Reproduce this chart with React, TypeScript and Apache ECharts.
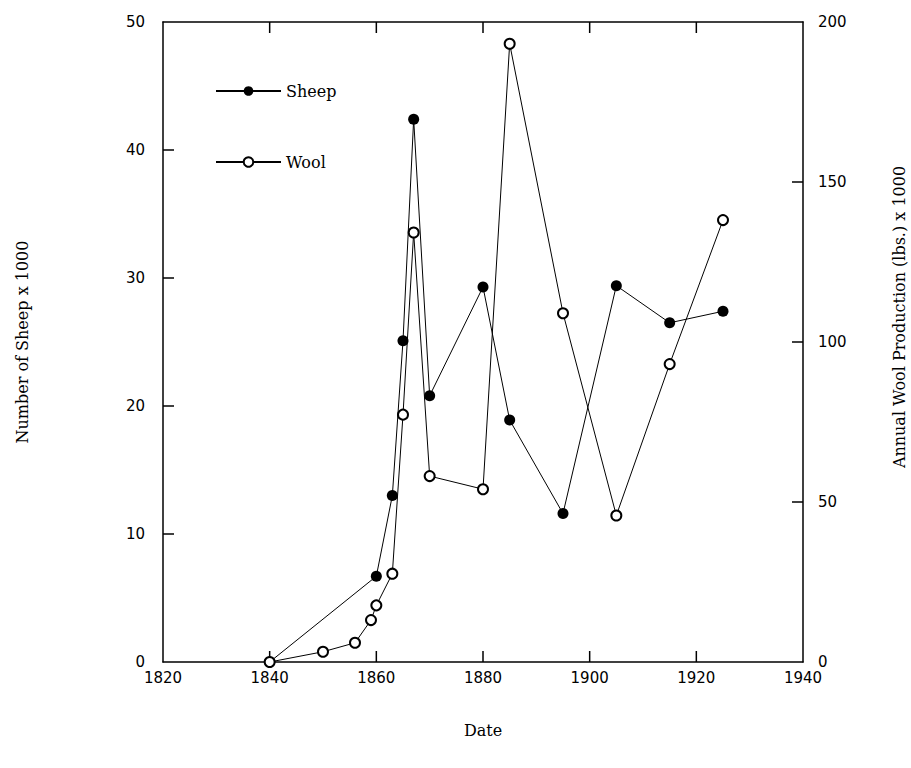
import React, { useEffect, useRef } from "react";
import * as echarts from "echarts";

const sheepYears = [1840, 1860, 1863, 1865, 1867, 1870, 1880, 1885, 1895, 1905, 1915, 1925];
const sheepValues = [0, 6.7, 13.0, 25.1, 42.4, 20.8, 29.3, 18.9, 11.6, 29.4, 26.5, 27.4];

const woolYears = [1840, 1850, 1856, 1859, 1860, 1863, 1865, 1867, 1870, 1880, 1885, 1895, 1905, 1915, 1925];
const woolValues = [0, 3.2, 6.0, 13.1, 17.7, 27.6, 77.3, 134.2, 58.1, 54.0, 193.2, 109, 45.8, 93.1, 138.1];

const xMin = 1820;
const xMax = 1940;
const leftMax = 50;
const rightMax = 200;
const xTicks = [1840, 1860, 1880, 1900, 1920];
const leftTicks = [10, 20, 30, 40];
const rightTicks = [50, 100, 150];

const xTitle = "Date";
const leftTitle = "Number of Sheep x 1000";
const rightTitle = "Annual Wool Production (lbs.) x 1000";

const SANS = "DejaVu Sans";
const SERIF = "DejaVu Serif";
const TICK_LEN = 11;
const tickStyle = { stroke: "#000", lineWidth: 1.5 };

const mkLine = () => ({ show: true, onZero: false, lineStyle: { color: "#000", width: 1.5 } });

export default function App() {
  const ref = useRef<HTMLDivElement>(null);
  useEffect(() => {
    if (!ref.current) return;
    const chart = echarts.init(ref.current, undefined, { renderer: "svg" });
    chart.setOption({
      animation: false,
      backgroundColor: "#fff",
      grid: {
        left: 163,
        top: 22,
        width: 640,
        height: 640,
        containLabel: false,
        outerBoundsMode: "none",
      },
      legend: {
        left: 215,
        top: 82,
        padding: 0,
        orient: "vertical",
        itemWidth: 65,
        itemHeight: 12,
        itemGap: 53,
        data: ["Sheep", "Wool"],
        textStyle: { fontFamily: SERIF, fontSize: 16, color: "#000", lineHeight: 18 },
      },
      xAxis: [
        {
          type: "value",
          position: "bottom",
          min: xMin,
          max: xMax,
          interval: 20,
          axisLine: mkLine(),
          axisTick: { show: false },
          splitLine: { show: false },
          axisLabel: {
            color: "#000",
            fontFamily: SANS,
            fontSize: 15,
            margin: 8,
            formatter: (v: number) => String(v),
          },
          name: xTitle,
          nameLocation: "middle",
          nameGap: 60,
          nameTextStyle: { fontFamily: SERIF, fontSize: 16, color: "#000" },
        },
        {
          type: "value",
          position: "top",
          min: xMin,
          max: xMax,
          interval: 20,
          axisLine: mkLine(),
          axisTick: { show: false },
          splitLine: { show: false },
          axisLabel: { show: false },
        },
      ],
      yAxis: [
        {
          type: "value",
          position: "left",
          min: 0,
          max: leftMax,
          interval: 10,
          axisLine: mkLine(),
          axisTick: { show: false },
          splitLine: { show: false },
          axisLabel: { color: "#000", fontFamily: SANS, fontSize: 15, margin: 18 },
          name: leftTitle,
          nameLocation: "middle",
          nameGap: 133,
          nameTextStyle: { fontFamily: SERIF, fontSize: 16, color: "#000" },
        },
        {
          type: "value",
          position: "right",
          min: 0,
          max: rightMax,
          interval: 50,
          axisLine: mkLine(),
          axisTick: { show: false },
          splitLine: { show: false },
          axisLabel: { color: "#000", fontFamily: SANS, fontSize: 15, margin: 15 },
          name: rightTitle,
          nameLocation: "middle",
          nameGap: 88,
          nameTextStyle: { fontFamily: SERIF, fontSize: 16, color: "#000", padding: [0, 0, 0, 50] },
        },
      ],
      series: [
        {
          name: "xTicks",
          type: "custom",
          silent: true,
          xAxisIndex: 0,
          yAxisIndex: 0,
          data: xTicks.map((v) => [v, 0]),
          renderItem: (_p: any, api: any) => {
            const v = api.value(0);
            const b = api.coord([v, 0]);
            const t = api.coord([v, leftMax]);
            return {
              type: "group",
              children: [
                { type: "line", shape: { x1: b[0], y1: b[1], x2: b[0], y2: b[1] - TICK_LEN }, style: tickStyle },
                { type: "line", shape: { x1: t[0], y1: t[1], x2: t[0], y2: t[1] + TICK_LEN }, style: tickStyle },
              ],
            };
          },
        },
        {
          name: "leftTicks",
          type: "custom",
          silent: true,
          xAxisIndex: 0,
          yAxisIndex: 0,
          data: leftTicks.map((v) => [xMin, v]),
          renderItem: (_p: any, api: any) => {
            const p = api.coord([xMin, api.value(1)]);
            return { type: "line", shape: { x1: p[0], y1: p[1], x2: p[0] + TICK_LEN, y2: p[1] }, style: tickStyle };
          },
        },
        {
          name: "rightTicks",
          type: "custom",
          silent: true,
          xAxisIndex: 0,
          yAxisIndex: 1,
          data: rightTicks.map((v) => [xMax, v]),
          renderItem: (_p: any, api: any) => {
            const p = api.coord([xMax, api.value(1)]);
            return { type: "line", shape: { x1: p[0], y1: p[1], x2: p[0] - TICK_LEN, y2: p[1] }, style: tickStyle };
          },
        },
        {
          name: "Sheep",
          type: "line",
          xAxisIndex: 0,
          yAxisIndex: 0,
          data: sheepYears.map((y, i) => [y, sheepValues[i]]),
          symbol: "circle",
          symbolSize: 11,
          itemStyle: { color: "#000" },
          lineStyle: { color: "#000", width: 1 },
        },
        {
          name: "Wool",
          type: "line",
          xAxisIndex: 0,
          yAxisIndex: 1,
          data: woolYears.map((y, i) => [y, woolValues[i]]),
          symbol: "emptyCircle",
          symbolSize: 10,
          itemStyle: { color: "#000", borderColor: "#000", borderWidth: 1 },
          lineStyle: { color: "#000", width: 1 },
        },
      ],
    });
    return () => chart.dispose();
  }, []);
  return (
    <div
      ref={ref}
      style={{ position: "fixed", left: 0, top: 0, width: 911, height: 768 }}
    />
  );
}
